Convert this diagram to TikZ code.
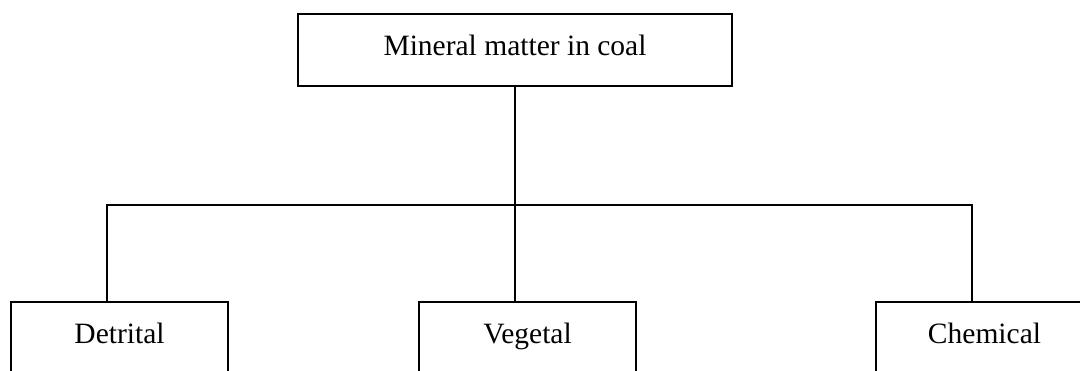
\documentclass[tikz,border=0pt]{standalone}
\usepackage{fontspec}
\setmainfont{Liberation Serif}
\begin{document}
\begin{tikzpicture}[x=0.5pt,y=-0.5pt,
  line width=1pt,
  box/.style={draw=black, line width=1pt, inner sep=0pt, anchor=north,
    font=\fontsize{14.75}{17}\selectfont},
  topbox/.style={box, minimum width=217pt, text height=20.5pt, text depth=15.5pt},
  leafbox/.style={box, minimum width=108.5pt, text height=20.5pt, text depth=30pt},
  link/.style={draw=black, line width=1pt}]
\useasboundingbox (0,0) rectangle (1080,370);
\clip (0,0) rectangle (1080,370);
\node[topbox] (top) at (515,13) {Mineral matter in coal};
\node[leafbox] (det) at (119.5,301) {Detrital};
\node[leafbox] (veg) at (527.5,301) {Vegetal};
\node[leafbox] (chem) at (984.5,301) {Chemical};
\coordinate (hub) at ([xshift=-6.25pt]veg.north |- 0,205);
\draw[link] (top.south) -- ([xshift=-6.25pt]veg.north);
\draw[link] ([xshift=-6.25pt]det.north) |- (hub) -| ([xshift=-6.25pt]chem.north);
\end{tikzpicture}
\end{document}
